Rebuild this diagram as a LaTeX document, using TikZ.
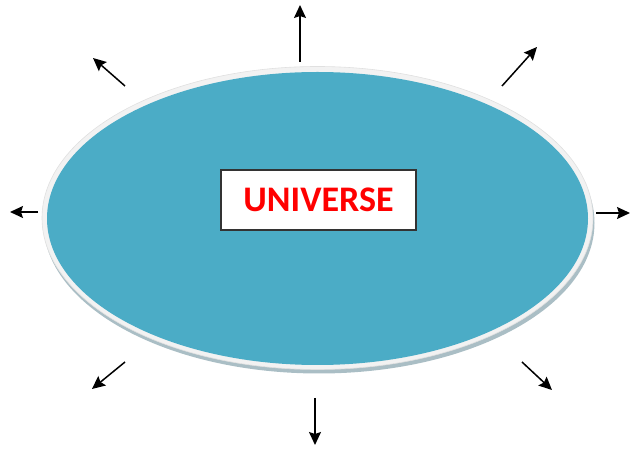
\documentclass[tikz,border=0pt]{standalone}
\usepackage{fontspec}
\newfontfamily\labelfont{Carlito}
\usepackage{tikz}
\usetikzlibrary{shapes.geometric, arrows.meta, positioning}
\definecolor{aqua}{HTML}{4BACC6}
\definecolor{rim}{HTML}{F2F2F2}
\definecolor{rimshade}{HTML}{AABEC5}
\tikzstyle{spread} = [line width=1.5pt, -{Stealth[length=13pt, width=12pt, inset=2pt]}]
\tikzstyle{namebox} = [rectangle, draw=black!80, line width=1.2pt, fill=white,
minimum width=195pt, minimum height=60pt, inner sep=0pt,
text=red, font=\labelfont\bfseries\fontsize{36}{40}\selectfont]
\tikzstyle{disc} = [ellipse, inner sep=0pt, minimum width=541pt, minimum height=293pt]

\begin{document}
\begin{tikzpicture}[x=1pt, y=1pt]
        \useasboundingbox (0,0) rectangle (633,450);
        % shadow and rim under the disc
        \node[disc, fill=rimshade, minimum width=551pt, minimum height=301pt] (shade) at (319,227) {};
        \node[disc, fill=rim, draw=black!12, line width=0.6pt, minimum width=551pt, minimum height=303pt] (rim) at (317.5,232) {};
        \node[disc, fill=aqua] (universe) at (317.5,231.5) {};
        \node[namebox] (name) at (318.5,250) {UNIVERSE};
        % arrows pointing outwards
        \coordinate (n0) at (300,388);   \coordinate (n1) at (300,445);
        \coordinate (ne0) at (502,364);  \coordinate (ne1) at (537,403);
        \coordinate (e0) at (596,237);   \coordinate (e1) at (630,237);
        \coordinate (w0) at (38,238);    \coordinate (w1) at (10,238);
        \coordinate (nw0) at (125,364);  \coordinate (nw1) at (93,392);
        \coordinate (sw0) at (125,88);   \coordinate (sw1) at (92,61);
        \coordinate (se0) at (522,88);   \coordinate (se1) at (552,60);
        \coordinate (s0) at (315,52);    \coordinate (s1) at (315,5);
        \foreach \d in {n, ne, e, w, nw, sw, se, s}
            \draw[spread] (\d0) -- (\d1);
    \end{tikzpicture}
\end{document}
